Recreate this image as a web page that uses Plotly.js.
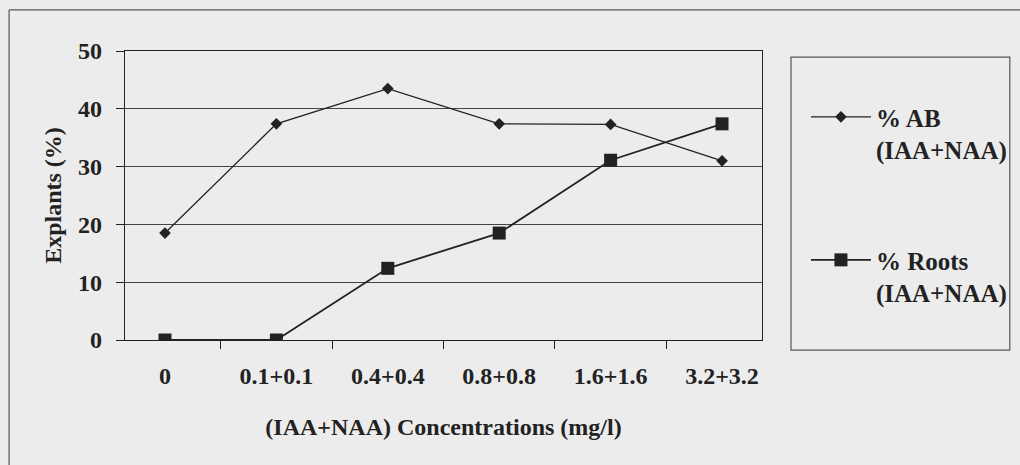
<!DOCTYPE html>
<html>
<head>
<meta charset="utf-8">
<script src="https://cdn.plot.ly/plotly-3.0.1.min.js"></script>
<style>html,body{margin:0;padding:0;background:#ececec;}#chart{width:1020px;height:465px;}</style>
</head>
<body>
<div id="chart"></div>
<script>
const categories = ["0", "0.1+0.1", "0.4+0.4", "0.8+0.8", "1.6+1.6", "3.2+3.2"];
const abValues = [18.5, 37.4, 43.5, 37.4, 37.3, 31.0];
const rootValues = [0, 0, 12.4, 18.5, 31.1, 37.4];
const yTicks = [0, 10, 20, 30, 40, 50];
const abName = "% AB<br>(IAA+NAA)";
const rootName = "% Roots<br>(IAA+NAA)";
const xTitle = "(IAA+NAA) Concentrations (mg/l)";
const yTitle = "Explants (%)";

const FONT = "Liberation Serif, Times New Roman, serif";
const INK = "#222";

const traces = [
  {
    x: categories, y: abValues, name: abName, type: "scatter", mode: "lines+markers",
    line: {color: INK, width: 1.3},
    marker: {symbol: "diamond", size: 9, color: INK},
    legend: "legend"
  },
  {
    x: categories, y: rootValues, name: rootName, type: "scatter", mode: "lines+markers",
    line: {color: INK, width: 1.8},
    marker: {symbol: "square", size: 13, color: INK},
    legend: "legend2"
  }
];

const legendCommon = {
  xanchor: "left", yanchor: "top", valign: "top",
  bgcolor: "rgba(0,0,0,0)", borderwidth: 0,
  font: {family: FONT, size: 25, weight: "bold", color: INK},
  itemwidth: 60
};

const layout = {
  width: 1020, height: 465,
  margin: {l: 125, r: 258, t: 51, b: 125, autoexpand: false},
  paper_bgcolor: "#ececec", plot_bgcolor: "#ececec",
  font: {family: FONT, size: 24, color: INK, weight: "bold"},
  xaxis: {
    type: "category", categoryorder: "array", categoryarray: categories,
    tickson: "boundaries", ticks: "outside", ticklen: 8, tickcolor: INK, tickwidth: 1,
    showline: true, linecolor: INK, linewidth: 1.2, mirror: true,
    showgrid: false, zeroline: false,
    tickfont: {family: FONT, size: 24, weight: "bold", color: INK},
    ticklabelstandoff: 14,
    title: {text: xTitle, font: {family: FONT, size: 24, weight: "bold", color: INK}, standoff: 30},
    automargin: false
  },
  yaxis: {
    range: [0, 50], tickvals: yTicks, ticktext: yTicks.map(String),
    ticks: "outside", ticklen: 8, tickcolor: INK, tickwidth: 1,
    showline: true, linecolor: INK, linewidth: 1.2, mirror: true,
    showgrid: true, gridcolor: "#444", gridwidth: 1, zeroline: false,
    tickfont: {family: FONT, size: 24, weight: "bold", color: INK},
    ticklabelstandoff: 9,
    title: {text: yTitle, font: {family: FONT, size: 24, weight: "bold", color: INK}, standoff: 9},
    automargin: false
  },
  legend: Object.assign({x: 1.069, y: 0.851}, legendCommon),
  legend2: Object.assign({x: 1.069, y: 0.356}, legendCommon),
  shapes: [
    {type: "rect", xref: "paper", yref: "paper", x0: 1.0455, x1: 1.389, y0: -0.035, y1: 0.979,
     line: {color: "#555", width: 1.2}, fillcolor: "rgba(0,0,0,0)"},
    {type: "line", xref: "paper", yref: "paper", x0: -0.182, x1: 1.45, y0: 1.142, y1: 1.142,
     line: {color: "#555", width: 1.2}},
    {type: "line", xref: "paper", yref: "paper", x0: -0.182, x1: -0.182, y0: 1.142, y1: -0.5,
     line: {color: "#555", width: 1.2}}
  ],
  showlegend: true
};

Plotly.newPlot("chart", traces, layout, {displayModeBar: false, staticPlot: true});
</script>
</body>
</html>
